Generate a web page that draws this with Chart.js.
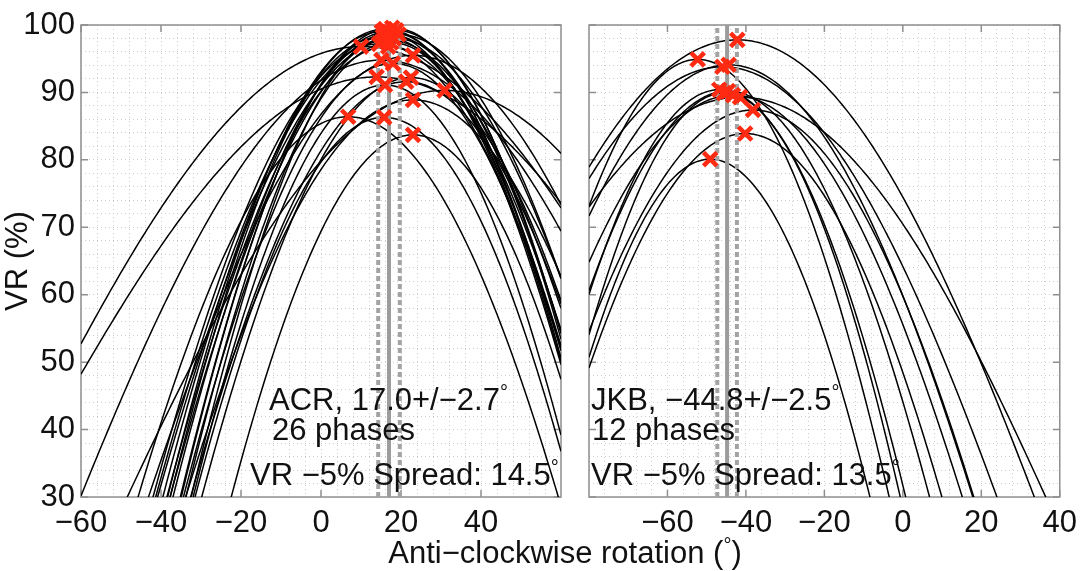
<!DOCTYPE html>
<html>
<head>
<meta charset="utf-8">
<script src="https://cdn.jsdelivr.net/npm/chart.js@4.4.0/dist/chart.umd.min.js"></script>
<style>
  html, body { margin: 0; padding: 0; background: #fff; overflow: hidden; }
  #figure { position: relative; width: 1085px; height: 571px; font-family: 'Liberation Sans', Arial, Helvetica, sans-serif; color: #111; }
  canvas { position: absolute; top: 0; }
  #chart-acr { left: 0; }
  #chart-jkb { left: 575px; }
  .note { position: absolute; font-size: 31px; line-height: 31px; white-space: nowrap; }
  .deg { font-size: 20px; vertical-align: 11px; }
  #x-title { position: absolute; left: 0; width: 1130px; top: 530px; text-align: center; font-size: 31px; line-height: 31px; white-space: nowrap; }
</style>
</head>
<body>
<div id="figure">
  <canvas id="chart-acr" width="575" height="571"></canvas>
  <canvas id="chart-jkb" width="510" height="571"></canvas>

  <div class="note" style="left:269px; top:377px;">ACR, 17.0+/−2.7<span class="deg">°</span></div>
  <div class="note" style="left:272px; top:414px;">26 phases</div>
  <div class="note" style="left:250px; top:452px;">VR −5% Spread: 14.5<span class="deg">°</span></div>

  <div class="note" style="left:591px; top:377px;">JKB, −44.8+/−2.5<span class="deg">°</span></div>
  <div class="note" style="left:592px; top:414px;">12 phases</div>
  <div class="note" style="left:591px; top:452px;">VR −5% Spread: 13.5<span class="deg">°</span></div>

  <div id="x-title">Anti−clockwise rotation (<span class="deg">°</span>)</div>
</div>
<script>
// ACR: best rotation (deg), peak VR (%) and cosine amplitude for each phase
const acrPeakRot = [10.0, 23.0, 15.1, 18.0, 13.9, 16.0, 21.3, 23.0, 30.9, 6.8, 15.8, 23.0, 22.5,
  14.5, 15.5, 16.0, 16.5, 17.0, 17.2, 17.8, 18.2, 18.8, 16.8, 15.2, 19.4, 17.5];
const acrPeakVR = [96.8, 95.5, 94.8, 94.3, 92.3, 91.1, 91.6, 88.9, 90.3, 86.4, 86.3, 83.7, 92.2,
  97.2, 98.3, 99.4, 97.8, 99.0, 98.5, 99.6, 98.0, 99.2, 96.8, 99.0, 98.6, 97.4];
const acrAmp = [67, 110, 87, 165, 61, 185, 150, 130, 74, 144, 175, 180, 160,
  150, 160, 170, 145, 180, 165, 175, 140, 185, 155, 170, 150, 180];
const acrMean = 17.0;
const acrStd = 2.7;

// JKB
const jkbPeakRot = [-42.2, -52.3, -46.0, -44.4, -46.8, -45.6, -44.6, -43.3, -41.5, -38.2, -40.2, -49.1];
const jkbPeakVR = [97.8, 94.9, 93.8, 94.1, 90.4, 89.9, 90.2, 89.6, 89.3, 87.4, 83.9, 80.1];
const jkbAmp = [90, 190, 97, 120, 186, 205, 160, 125, 75, 129, 150, 207];
const jkbMean = -44.8;
const jkbStd = 2.5;

// axes
const acrXTicks = [-60, -40, -20, 0, 20, 40];
const jkbXTicks = [-60, -40, -20, 0, 20, 40];
const vrTicks = [30, 40, 50, 60, 70, 80, 90, 100];

const axisFont = { family: "'Liberation Sans', Arial, Helvetica, sans-serif", size: 31 };
const frameColor = '#8f8f8f';

function formatTick(v) {
  return v < 0 ? '\u2212' + Math.abs(v) : String(v);
}

// VR of a rotated field falls off as 1 - cos of the angle away from the best rotation
function vrCurve(rot0, vr0, amp, xMin, xMax) {
  const pts = [];
  for (let x = xMin; x <= xMax; x += 0.5) {
    const d = (x - rot0) * Math.PI / 180;
    pts.push({ x, y: vr0 - amp * (1 - Math.cos(d)) });
  }
  return pts;
}

function vline(x, dashed) {
  return {
    type: 'line',
    data: [{ x, y: 30 }, { x, y: 100 }],
    borderColor: dashed ? '#a3a3a3' : '#9c9c9c',
    borderWidth: 4,
    borderDash: dashed ? [5, 3] : [],
    pointRadius: 0,
    order: 2,
  };
}

// box round the plot area with inward tick marks on all four sides
const frameBox = {
  id: 'frameBox',
  beforeDatasetsDraw(chart, args, opts) {
    const { ctx, chartArea: a, scales } = chart;
    ctx.save();
    ctx.strokeStyle = frameColor;
    ctx.lineWidth = 1.5;
    ctx.beginPath();
    opts.xMarks.forEach((v) => {
      const px = scales.x.getPixelForValue(v);
      ctx.moveTo(px, a.bottom); ctx.lineTo(px, a.bottom - 7);
      ctx.moveTo(px, a.top); ctx.lineTo(px, a.top + 7);
    });
    vrTicks.forEach((v) => {
      const py = scales.y.getPixelForValue(v);
      ctx.moveTo(a.left, py); ctx.lineTo(a.left + 7, py);
      ctx.moveTo(a.right, py); ctx.lineTo(a.right - 7, py);
    });
    ctx.stroke();
    ctx.strokeRect(a.left, a.top, a.right - a.left, a.bottom - a.top);
    ctx.restore();
  },
};

function buildPanel(canvasId, cfg) {
  const datasets = cfg.peakRot.map((r, i) => ({
    type: 'line',
    data: vrCurve(r, cfg.peakVR[i], cfg.amp[i], cfg.xMin, cfg.xMax),
    borderColor: '#000',
    borderWidth: 1.5,
    pointRadius: 0,
    tension: 0,
    order: 3,
  }));

  datasets.push(vline(cfg.mean, false));
  datasets.push(vline(cfg.mean - cfg.std, true));
  datasets.push(vline(cfg.mean + cfg.std, true));

  datasets.push({
    type: 'scatter',
    data: cfg.peakRot.map((r, i) => ({ x: r, y: cfg.peakVR[i] })),
    pointStyle: 'crossRot',
    pointRadius: 9.5,
    borderWidth: 4.5,
    borderColor: '#ff2a12',
    backgroundColor: '#ff2a12',
    clip: false,
    order: 1,
  });

  const gridOpts = { color: '#cdcdcd', lineWidth: 1, drawTicks: false };
  const borderOpts = { display: false, dash: [1, 3] };

  return new Chart(document.getElementById(canvasId), {
    data: { datasets },
    plugins: [frameBox],
    options: {
      responsive: false,
      animation: false,
      devicePixelRatio: 1,
      events: [],
      layout: { padding: { top: 25, right: cfg.padRight, left: 0, bottom: 0 } },
      plugins: {
        legend: { display: false },
        tooltip: { enabled: false },
        frameBox: { xMarks: cfg.xTicks },
      },
      scales: {
        x: {
          type: 'linear',
          min: cfg.xMin,
          max: cfg.xMax,
          afterFit: (s) => { s.height = 74; },
          grid: gridOpts,
          border: borderOpts,
          ticks: {
            stepSize: 4,
            autoSkip: false,
            maxRotation: 0,
            minRotation: 0,
            padding: 8,
            color: '#111',
            font: axisFont,
            callback: (v) => (cfg.xTicks.includes(v) ? formatTick(v) : ''),
          },
        },
        y: {
          type: 'linear',
          min: 30,
          max: 100,
          afterFit: (s) => { s.width = cfg.yWidth; },
          grid: gridOpts,
          border: borderOpts,
          ticks: {
            display: cfg.showY,
            stepSize: 2,
            autoSkip: false,
            padding: 6,
            color: '#111',
            font: axisFont,
            callback: (v) => (vrTicks.includes(v) ? String(v) : ''),
          },
          title: {
            display: cfg.showY,
            text: 'VR (%)',
            color: '#111',
            font: axisFont,
            padding: 0,
          },
        },
      },
    },
  });
}

buildPanel('chart-acr', {
  peakRot: acrPeakRot, peakVR: acrPeakVR, amp: acrAmp,
  mean: acrMean, std: acrStd,
  xMin: -60, xMax: 60, xTicks: acrXTicks,
  yWidth: 81, padRight: 11, showY: true,
});

buildPanel('chart-jkb', {
  peakRot: jkbPeakRot, peakVR: jkbPeakVR, amp: jkbAmp,
  mean: jkbMean, std: jkbStd,
  xMin: -80, xMax: 40, xTicks: jkbXTicks,
  yWidth: 10, padRight: 17, showY: false,
});
</script>
</body>
</html>
